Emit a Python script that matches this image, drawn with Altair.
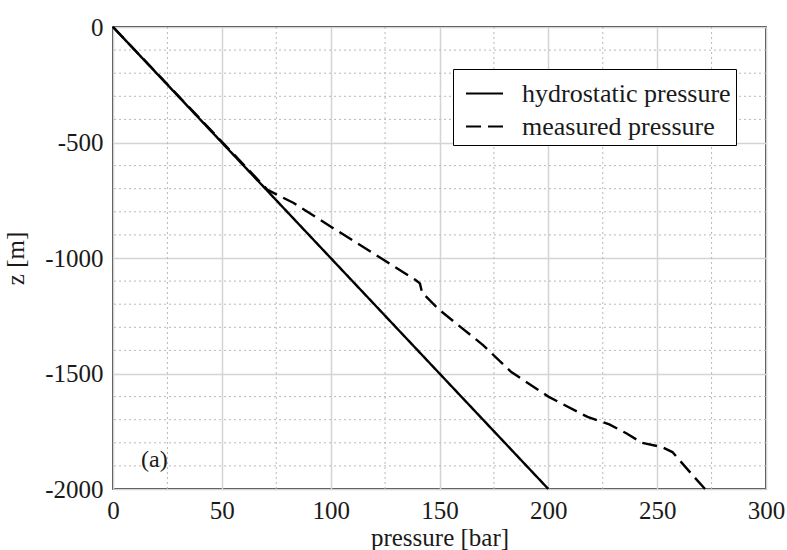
import altair as alt
import pandas as pd

# Hydrostatic pressure profile (bar) against depth z (m)
hydro_p = [0, 200]
hydro_z = [0, -2000]

# Measured pressure profile
meas_p = [0, 71, 83, 101, 123, 139, 141, 142, 150, 170, 183, 200, 218, 228, 236, 243, 252, 257, 267, 272]
meas_z = [0, -705, -762, -870, -1000, -1095, -1110, -1150, -1225, -1377, -1494, -1600, -1688, -1720,
          -1760, -1800, -1818, -1840, -1948, -2000]

series_names = ["hydrostatic pressure", "measured pressure"]

# Minor grid positions
x_minor = [25, 75, 125, 175, 225, 275]
y_minor = [-100, -200, -300, -400, -600, -700, -800, -900, -1100, -1200, -1300, -1400,
           -1600, -1700, -1800, -1900]

x_ticks = [0, 50, 100, 150, 200, 250, 300]
y_ticks = [0, -500, -1000, -1500, -2000]

FONT = "Liberation Serif"
TEXT = "#1a1a1a"

rows = []
for i, (p, z) in enumerate(zip(hydro_p, hydro_z)):
    rows.append({"series": series_names[0], "p": p, "z": z, "i": i})
for i, (p, z) in enumerate(zip(meas_p, meas_z)):
    rows.append({"series": series_names[1], "p": p, "z": z, "i": i})
df = pd.DataFrame(rows)

x_scale = alt.Scale(domain=[0, 300], nice=False, zero=False)
y_scale = alt.Scale(domain=[-2000, 0], nice=False, zero=False)

minor_x = alt.Chart(pd.DataFrame({"p": x_minor})).mark_rule(
    color="#b8b8b8", strokeWidth=1, strokeDash=[2, 3]
).encode(x=alt.X("p:Q", scale=x_scale))

minor_y = alt.Chart(pd.DataFrame({"z": y_minor})).mark_rule(
    color="#b8b8b8", strokeWidth=1, strokeDash=[2, 3]
).encode(y=alt.Y("z:Q", scale=y_scale))

lines = alt.Chart(df).mark_line(color="black", strokeWidth=2.4).encode(
    x=alt.X("p:Q", scale=x_scale, title="pressure [bar]",
            axis=alt.Axis(values=x_ticks, grid=True, labelFlush=False,
                          labelExpr="datum.value + ''")),
    y=alt.Y("z:Q", scale=y_scale, title="z [m]",
            axis=alt.Axis(values=y_ticks, grid=True, labelFlush=False,
                          labelExpr="datum.value + ''")),
    strokeDash=alt.StrokeDash(
        "series:N",
        scale=alt.Scale(domain=series_names, range=[[1, 0], [15, 7]]),
        legend=alt.Legend(
            title=None, orient="none", legendX=340, legendY=42,
            fillColor="white", strokeColor="black", padding=5,
            symbolType="stroke", symbolSize=1369, symbolStrokeWidth=2,
            symbolStrokeColor="black", symbolOffset=7,
            labelFont=FONT, labelFontSize=26,
            labelColor=TEXT, labelOffset=18, rowPadding=-8, labelLimit=400,
        ),
    ),
    detail="series:N",
    order="i:Q",
)

label = alt.Chart(pd.DataFrame({"p": [19], "z": [-1875], "t": ["(a)"]})).mark_text(
    font=FONT, fontSize=24, color=TEXT
).encode(x=alt.X("p:Q", scale=x_scale), y=alt.Y("z:Q", scale=y_scale), text="t:N")

chart = alt.layer(minor_x, minor_y, lines, label).properties(
    width=653, height=462,
    padding={"left": 113, "top": 27, "right": 21, "bottom": 61},
    autosize=alt.AutoSizeParams(type="none"),
    background="white",
).configure_view(
    stroke="black", strokeWidth=1.5
).configure_axis(
    domain=False, ticks=False,
    gridColor="#d4d4d4", gridWidth=1.5,
    labelFont=FONT, labelFontSize=25, labelColor=TEXT,
    titleFont=FONT, titleFontSize=25, titleColor=TEXT, titleFontWeight="normal",
).configure_axisX(
    labelPadding=9, titlePadding=2
).configure_axisY(
    labelPadding=10, titlePadding=16
)

chart.save("out.html", embed_options={"renderer": "svg", "actions": False})
